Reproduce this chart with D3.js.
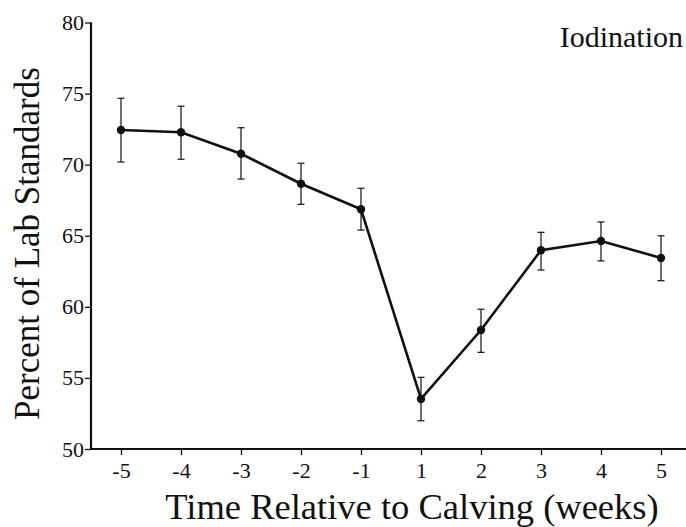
<!DOCTYPE html>
<html>
<head>
<meta charset="utf-8">
<script src="https://cdn.jsdelivr.net/npm/d3@7"></script>
<style>
  body { margin: 0; background: #fff; }
  svg { display: block; font-family: "Liberation Serif", "Times New Roman", serif; }
  .axis text { font-family: "Liberation Serif", "Times New Roman", serif; font-size: 22px; fill: #111; }
  .axis line { stroke: #111; stroke-width: 1.3; }
</style>
</head>
<body>
<svg class="chart" width="686" height="527"></svg>
<script>
// weeks relative to calving
var weeks = ["-5", "-4", "-3", "-2", "-1", "1", "2", "3", "4", "5"];
// percent of lab standards (mean) and error bar ends
var means = [72.44, 72.28, 70.77, 68.66, 66.86, 53.52, 58.37, 63.98, 64.63, 63.44];
var upper = [74.67, 74.11, 72.60, 70.10, 68.34, 55.04, 59.83, 65.24, 65.97, 65.00];
var lower = [70.19, 70.38, 68.99, 67.21, 65.40, 51.99, 56.80, 62.59, 63.23, 61.84];
var yTicks = [50, 55, 60, 65, 70, 75, 80];

var svg = d3.select(".chart"),
    margin = {top: 22.5, right: 0, bottom: 78, left: 91},
    width = +svg.attr("width") - margin.left - margin.right,
    height = +svg.attr("height") - margin.top - margin.bottom;

var data = weeks.map(function(w, i) {
  return {week: w, mean: means[i], hi: upper[i], lo: lower[i]};
});

var x = d3.scalePoint().domain(weeks).range([30, 570]);
var y = d3.scaleLinear().domain([50, 80]).range([height, 0]);

var g = svg.append("g")
    .attr("transform", "translate(" + margin.left + "," + margin.top + ")");

// axes
g.append("g")
    .attr("class", "x axis")
    .attr("transform", "translate(0," + height + ")")
    .call(d3.axisBottom(x).tickSize(6).tickPadding(7))
    .call(function(s) { s.select(".domain").remove(); });

g.append("g")
    .attr("class", "y axis")
    .call(d3.axisLeft(y).tickValues(yTicks).tickSize(6).tickPadding(1))
    .call(function(s) { s.select(".domain").remove(); });

g.append("line")
    .attr("x1", 0).attr("x2", width)
    .attr("y1", height).attr("y2", height)
    .attr("stroke", "#111").attr("stroke-width", 2.2);
g.append("line")
    .attr("x1", 0).attr("x2", 0)
    .attr("y1", y(80)).attr("y2", height)
    .attr("stroke", "#111").attr("stroke-width", 2.2);

// error bars
var eb = g.selectAll(".err")
    .data(data)
  .enter().append("g")
    .attr("class", "err")
    .attr("stroke", "#222")
    .attr("stroke-width", 1.3);
eb.append("line")
    .attr("x1", function(d) { return x(d.week); })
    .attr("x2", function(d) { return x(d.week); })
    .attr("y1", function(d) { return y(d.hi); })
    .attr("y2", function(d) { return y(d.lo); });
eb.append("line")
    .attr("x1", function(d) { return x(d.week) - 3.5; })
    .attr("x2", function(d) { return x(d.week) + 3.5; })
    .attr("y1", function(d) { return y(d.hi); })
    .attr("y2", function(d) { return y(d.hi); });
eb.append("line")
    .attr("x1", function(d) { return x(d.week) - 3.5; })
    .attr("x2", function(d) { return x(d.week) + 3.5; })
    .attr("y1", function(d) { return y(d.lo); })
    .attr("y2", function(d) { return y(d.lo); });

// line + points
var line = d3.line()
    .x(function(d) { return x(d.week); })
    .y(function(d) { return y(d.mean); });

g.append("path")
    .datum(data)
    .attr("fill", "none")
    .attr("stroke", "#111")
    .attr("stroke-width", 2.6)
    .attr("d", line);

g.selectAll(".dot")
    .data(data)
  .enter().append("circle")
    .attr("class", "dot")
    .attr("cx", function(d) { return x(d.week); })
    .attr("cy", function(d) { return y(d.mean); })
    .attr("r", 4.2)
    .attr("fill", "#111");

// labels
svg.append("text")
    .attr("transform", "rotate(-90)")
    .attr("x", -243.5)
    .attr("y", 39)
    .style("text-anchor", "middle")
    .style("font-size", "35px")
    .attr("fill", "#111")
    .text("Percent of Lab Standards");

svg.append("text")
    .attr("x", 412)
    .attr("y", 519)
    .style("text-anchor", "middle")
    .style("font-size", "36.5px")
    .attr("fill", "#111")
    .text("Time Relative to Calving (weeks)");

svg.append("text")
    .attr("x", 683)
    .attr("y", 47)
    .style("text-anchor", "end")
    .style("font-size", "30px")
    .attr("fill", "#111")
    .text("Iodination");
</script>
</body>
</html>
